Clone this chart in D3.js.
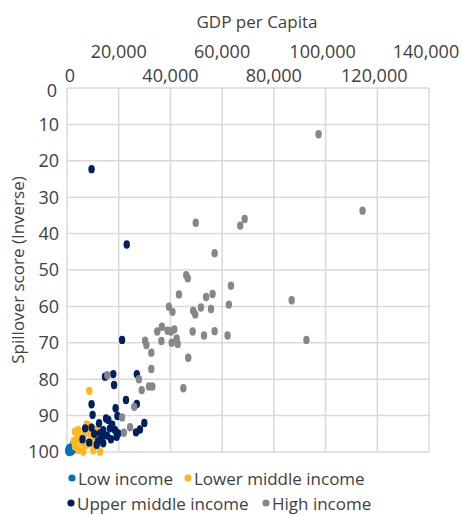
<!DOCTYPE html>
<html lang="en">
<head>
<meta charset="utf-8">
<title>Spillover score vs GDP per capita</title>
<script src="https://cdn.jsdelivr.net/npm/d3@7"></script>
<style>
  body { margin: 0; background: #fff; }
  text { font-family: "Open Sans", sans-serif; fill: #404040; }
</style>
</head>
<body>
<script>
// GDP per capita (x) and inverse spillover score (y)
var lowIncome = [[1200, 98.9], [1800, 99.8], [500, 99.8], [2400, 97.8], [800, 99], [1500, 99.5],
  [2000, 98.5], [600, 99.3], [3000, 99.2], [1000, 100]];
var lowerMiddle = [[8600, 83.2], [8900, 93], [11500, 93.8], [3100, 94.4], [4400, 94], [7600, 92.4],
  [8900, 94.9], [5400, 97.2], [3100, 98.5], [4400, 99.4], [6300, 99.9], [7600, 98], [10200, 99.5],
  [12800, 99.9], [5000, 96], [3800, 96.5], [6500, 95.5], [2600, 97], [9500, 97.5], [11000, 96.5], [6800, 97.8]];
var upperMiddle = [[9500, 22.3], [23100, 43], [21300, 69.2], [14700, 79.3], [17900, 78.6], [18200, 81.6],
  [27000, 78.6], [22800, 85.7], [27000, 86.8], [9500, 86.9], [9900, 89.8], [18800, 88], [19500, 90.1],
  [7000, 93.5], [9500, 93.3], [12400, 92.1], [15100, 90.8], [16000, 91.2], [29900, 92], [26700, 94.6],
  [28200, 93.8], [18600, 94], [19200, 95.8], [19800, 94.9], [8600, 97.4], [11500, 98], [14000, 97.6],
  [12800, 94.9], [14000, 94], [16600, 93.5], [13500, 96], [15500, 95.5], [17000, 96.5], [10500, 95],
  [17500, 92.5], [12000, 97], [6000, 96.5]];
var highIncome = [[97300, 12.7], [114300, 33.7], [68700, 36], [67000, 37.8], [49800, 37], [57100, 45.4],
  [63400, 54.3], [46100, 51.4], [46700, 52.3], [43300, 56.7], [53800, 57.4], [56300, 56.6], [51800, 60.3],
  [55700, 60.7], [62600, 59.5], [86900, 58.3], [53000, 68], [57100, 66.8], [62100, 68], [92600, 69.2],
  [39400, 60.1], [40800, 61.5], [48800, 61.2], [49600, 62.2], [36700, 65.6], [34900, 66.9], [38900, 66.7],
  [40200, 66.9], [41500, 66.3], [48600, 66.9], [36500, 69.5], [40500, 70], [42400, 68.8], [42800, 70.3],
  [30200, 69.4], [30700, 70.6], [32600, 72.7], [46900, 74.1], [32600, 77.2], [27800, 80], [31700, 82],
  [33000, 82], [28900, 83], [45000, 82.5], [15600, 78.9], [26000, 87.6], [21300, 90.5], [22000, 94.7],
  [24400, 93.2]];

var seriesNames = ["Low income", "Lower middle income", "Upper middle income", "High income"];
var seriesColors = ["#0070c0", "#ffb81c", "#002060", "#878787"];
var seriesData = [lowIncome, lowerMiddle, upperMiddle, highIncome];

var xTicks = [0, 20000, 40000, 60000, 80000, 100000, 120000, 140000];
var yTicks = [0, 10, 20, 30, 40, 50, 60, 70, 80, 90, 100];

var w = 462, h = 516;
var plotLeft = 67, plotRight = 429, plotTop = 88, plotBottom = 452;

var svg = d3.select("body").append("svg").attr("width", w).attr("height", h);

var x = d3.scaleLinear().domain([0, 140000]).range([plotLeft, plotRight]);
var y = d3.scaleLinear().domain([0, 100]).range([plotTop, plotBottom]);

// gridlines
svg.append("g").selectAll("line").data(xTicks).enter().append("line")
  .attr("x1", function (d) { return x(d); }).attr("x2", function (d) { return x(d); })
  .attr("y1", plotTop).attr("y2", plotBottom)
  .attr("stroke", "#d9d9d9").attr("stroke-width", 1.5);
svg.append("g").selectAll("line").data(yTicks).enter().append("line")
  .attr("x1", plotLeft).attr("x2", plotRight)
  .attr("y1", function (d) { return y(d); }).attr("y2", function (d) { return y(d); })
  .attr("stroke", "#d9d9d9").attr("stroke-width", 1.5);

// x tick labels, staggered on two rows like the original
var fmt = d3.format(",");
svg.append("g").selectAll("text").data(xTicks).enter().append("text")
  .text(function (d) { return fmt(d); })
  .attr("x", function (d, i) { return x(d) + (i == 0 ? 3 : (i >= 5 ? -3 : 0)); })
  .attr("y", function (d, i) { return i % 2 == 0 ? 82 : 58; })
  .attr("text-anchor", "middle")
  .attr("font-size", "18px");

// y tick labels
svg.append("g").selectAll("text").data(yTicks).enter().append("text")
  .text(function (d) { return d; })
  .attr("x", function (d) { return d == 0 ? 57 : 59; })
  .attr("y", function (d) { return y(d) + (d == 0 ? 3 : 0); })
  .attr("dy", "0.35em")
  .attr("text-anchor", "end")
  .attr("font-size", "18px");

// axis titles
svg.append("text").text("GDP per Capita")
  .attr("x", 257).attr("y", 28)
  .attr("text-anchor", "middle").attr("font-size", "17px");
svg.append("text").text("Spillover score (Inverse)")
  .attr("transform", "translate(24," + ((plotTop + plotBottom) / 2) + ") rotate(-90)")
  .attr("text-anchor", "middle").attr("font-size", "17px");

// points, series drawn in legend order
seriesData.forEach(function (data, k) {
  svg.append("g").selectAll("ellipse").data(data).enter().append("ellipse")
    .attr("cx", function (d) { return x(d[0]); })
    .attr("cy", function (d) { return y(d[1]); })
    .attr("rx", 3.2).attr("ry", 4.2)
    .attr("fill", seriesColors[k]);
});

// legend, two rows
var legendPos = [[72, 478], [188, 478], [71, 503], [266, 503]];
var legend = svg.append("g").selectAll("g").data(seriesNames).enter().append("g")
  .attr("transform", function (d, i) { return "translate(" + legendPos[i][0] + "," + legendPos[i][1] + ")"; });
legend.append("circle").attr("r", 3.6)
  .attr("fill", function (d, i) { return seriesColors[i]; });
legend.append("text").text(function (d) { return d; })
  .attr("x", 6).attr("y", 7)
  .attr("font-size", "17px");
</script>
</body>
</html>
